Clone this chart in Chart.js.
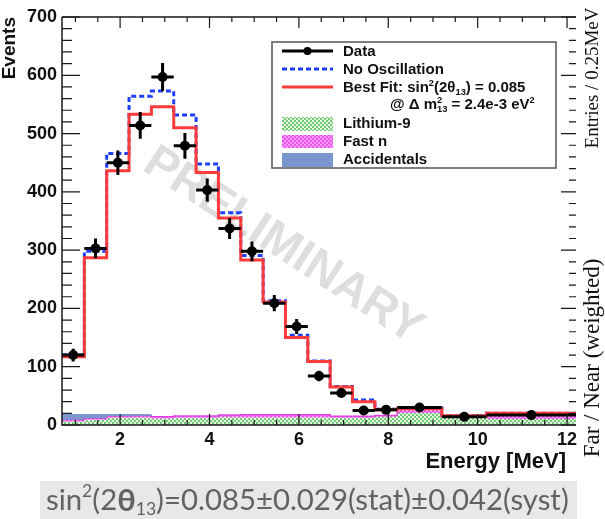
<!DOCTYPE html>
<html><head><meta charset="utf-8">
<script src="https://cdn.jsdelivr.net/npm/chart.js@4.4.1/dist/chart.umd.min.js"></script>
<style>html,body{margin:0;padding:0;background:#fff;}#wrap{position:relative;width:605px;height:519px;}</style>
</head><body><div id="wrap"><canvas id="c" width="605" height="519"></canvas></div>
<script>
// ---- data ----
const binEdges = [0.7,1.2,1.7,2.2,2.7,3.2,3.7,4.2,4.7,5.2,5.7,6.2,6.7,7.2,7.7,8.2,9.2,10.2,12.2];
const dataCenters = [0.95,1.45,1.95,2.45,2.95,3.45,3.95,4.45,4.95,5.45,5.95,6.45,6.95,7.45,7.95,8.7,9.7,11.2];
const dataValues = [120,303,450,514,597,479,403,337,298,209,169,84,55,25,26,30,14,17];
const dataErrors = [11,17,21,23,24,22,20,18,17,14,13,9,7,5,5,5.5,4,4];
const noOscillation = [120,298,466,564,573,532,448,364,291,213,154,110,66,43,27,29,16,20];
const bestFit = [117,287,436,533,546,510,433,355,283,211,150,109,65,40,26,28,16,20];
const lithium9 = [6,9,13,13,11,12.5,12.5,13.5,13,13,13,13,12.5,12.5,14,20.5,15,10.5];
const fastN = [3,2.5,2.5,3,3,3,3,3.5,4.5,4.5,4.5,4.5,2.5,2.5,2.5,8,1,7];
const accidentals = [10,7.5,3.5,3,0,0,0,0,0,0,0,0,0,0,0,0,0,0];
const xTickValues = [2,4,6,8,10,12];
const yTickValues = [0,100,200,300,400,500,600,700];

const SANS = "'Liberation Sans', Arial, Helvetica, sans-serif";
const SERIF = "'Liberation Serif', 'Times New Roman', serif";

function stepPoints(vals){
  const pts = vals.map((v,i)=>({x:binEdges[i], y:v}));
  pts.push({x:binEdges[binEdges.length-1], y:vals[vals.length-1]});
  return pts;
}
const cumLi = lithium9.slice();
const cumFn = lithium9.map((v,i)=>v+fastN[i]);
const cumAcc = cumFn.map((v,i)=>v+accidentals[i]);

function makePattern(base, dot){
  const p = document.createElement('canvas'); p.width = 4; p.height = 4;
  const g = p.getContext('2d');
  g.fillStyle = base; g.fillRect(0,0,4,4);
  g.fillStyle = dot; g.fillRect(0,0,2,2); g.fillRect(2,2,2,2);
  return g.createPattern(p,'repeat');
}
const greenPat = makePattern('#6fcb6f','#e9f8e9');
const magentaPat = makePattern('#ee55ee','#f79af7');

// ---- plugins ----
const watermark = {
  id:'watermark',
  beforeDatasetsDraw(chart){
    const ctx = chart.ctx; ctx.save();
    ctx.translate(283,246); ctx.rotate(33*Math.PI/180);
    ctx.font = "bold 47px " + SANS; ctx.fillStyle = '#dedede';
    ctx.textAlign='center'; ctx.textBaseline='middle';
    ctx.fillText('PRELIMINARY',0,0);
    ctx.restore();
  }
};

const errorBars = {
  id:'errorBars',
  afterDatasetsDraw(chart){
    const {ctx, scales:{x,y}} = chart;
    ctx.save(); ctx.strokeStyle='#000'; ctx.lineWidth=3;
    dataValues.forEach((v,i)=>{
      const xl=x.getPixelForValue(binEdges[i]), xr=x.getPixelForValue(binEdges[i+1]);
      const xc=x.getPixelForValue(dataCenters[i]);
      const yc=y.getPixelForValue(v), yt=y.getPixelForValue(v+dataErrors[i]), yb=y.getPixelForValue(v-dataErrors[i]);
      ctx.beginPath(); ctx.moveTo(xl,yc); ctx.lineTo(xr,yc); ctx.moveTo(xc,yt); ctx.lineTo(xc,yb); ctx.stroke();
      ctx.beginPath(); ctx.arc(xc,yc,5,0,Math.PI*2); ctx.fillStyle='#000'; ctx.fill();
    });
    ctx.restore();
  }
};

const frame = {
  id:'frame',
  afterDatasetsDraw(chart){
    const {ctx, chartArea:a, scales:{x,y}} = chart;
    ctx.save(); ctx.strokeStyle='#1a1a1a'; ctx.lineWidth=1.5;
    ctx.beginPath();
    ctx.moveTo(a.left,a.top); ctx.lineTo(a.left,a.bottom); ctx.lineTo(a.right,a.bottom);
    ctx.moveTo(a.left,a.top); ctx.lineTo(a.right,a.top);
    ctx.stroke();
    ctx.lineWidth=1.2; ctx.beginPath();
    for(let v=0; v<=700; v+=20){
      const py=y.getPixelForValue(v); const major = v%100===0;
      ctx.moveTo(a.left,py); ctx.lineTo(a.left+(major?18:10),py);
      ctx.moveTo(a.right,py); ctx.lineTo(a.right-(major?15:7),py);
    }
    for(let v=1.0; v<=12.01; v+=0.5){
      const px=x.getPixelForValue(v); const major = Math.abs(v/2-Math.round(v/2))<1e-6;
      ctx.moveTo(px,a.bottom); ctx.lineTo(px,a.bottom-(major?11:5));
      ctx.moveTo(px,a.top); ctx.lineTo(px,a.top+(major?11:5));
    }
    ctx.stroke();
    ctx.restore();
  }
};

function drawParts(ctx, parts, x, y, baseFont, size){
  let cx = x;
  parts.forEach(p=>{
    const s = size*(p.s||1);
    ctx.font = (p.w||baseFont.w)+' '+s+'px '+(p.f||baseFont.f);
    ctx.fillText(p.t, cx, y+(p.dy||0)*size);
    if(!p.noadv) cx += ctx.measureText(p.t).width;
  });
  return cx-x;
}
function measureParts(ctx, parts, baseFont, size){
  let w=0;
  parts.forEach(p=>{ const s=size*(p.s||1); ctx.font=(p.w||baseFont.w)+' '+s+'px '+(p.f||baseFont.f); if(!p.noadv) w+=ctx.measureText(p.t).width; });
  return w;
}

const texts = {
  id:'texts',
  afterDraw(chart){
    const ctx = chart.ctx; ctx.save();
    ctx.fillStyle='#111';
    // y title
    ctx.save(); ctx.translate(10,17); ctx.rotate(-Math.PI/2);
    ctx.font='bold 19px '+SANS; ctx.textAlign='right'; ctx.textBaseline='middle';
    ctx.fillText('Events',0,0); ctx.restore();
    // x title
    ctx.font='bold 22px '+SANS; ctx.textAlign='right'; ctx.textBaseline='middle';
    ctx.fillText('Energy [MeV]',566,462);
    // right side serif labels
    ctx.save(); ctx.translate(593,78); ctx.rotate(-Math.PI/2);
    ctx.font='19px '+SERIF; ctx.textAlign='center'; ctx.textBaseline='middle';
    ctx.fillText('Entries / 0.25MeV',0,0); ctx.restore();
    ctx.save(); ctx.translate(593,358); ctx.rotate(-Math.PI/2);
    ctx.font='23px '+SERIF; ctx.textAlign='center'; ctx.textBaseline='middle';
    ctx.fillText('Far / Near (weighted)',0,0); ctx.restore();

    // legend
    const L={l:272,t:42,r:556,b:168};
    ctx.fillStyle='#fff'; ctx.fillRect(L.l,L.t,L.r-L.l,L.b-L.t);
    ctx.strokeStyle='#555'; ctx.lineWidth=1.5; ctx.strokeRect(L.l,L.t,L.r-L.l,L.b-L.t);
    const sx0=282, sx1=333, tx=343;
    ctx.lineWidth=3;
    ctx.strokeStyle='#000'; ctx.beginPath(); ctx.moveTo(sx0,51); ctx.lineTo(sx1,51); ctx.stroke();
    ctx.fillStyle='#000'; ctx.beginPath(); ctx.arc((sx0+sx1)/2,51,4,0,Math.PI*2); ctx.fill();
    ctx.strokeStyle='#1f3fff'; ctx.setLineDash([5,3]); ctx.beginPath(); ctx.moveTo(sx0,69); ctx.lineTo(sx1,69); ctx.stroke();
    ctx.setLineDash([]);
    ctx.strokeStyle='#ff3b3b'; ctx.beginPath(); ctx.moveTo(sx0,87); ctx.lineTo(sx1,87); ctx.stroke();
    ctx.fillStyle=greenPat; ctx.fillRect(sx0,117,sx1-sx0,14);
    ctx.fillStyle=magentaPat; ctx.fillRect(sx0,135,sx1-sx0,13);
    ctx.fillStyle='#7b96cf'; ctx.fillRect(sx0,153,sx1-sx0,14);
    ctx.fillStyle='#111'; ctx.textAlign='left'; ctx.textBaseline='middle';
    const bf={w:'bold',f:SANS};
    ctx.font='bold 15px '+SANS;
    ctx.fillText('Data',tx,52);
    ctx.fillText('No Oscillation',tx,70);
    drawParts(ctx,[{t:'Best Fit: sin'},{t:'2',s:0.62,dy:-0.3},{t:'(2\u03B8'},{t:'13',s:0.62,dy:0.3},{t:') = 0.085'}],tx,88,bf,15);
    drawParts(ctx,[{t:'@ \u0394 m'},{t:'2',s:0.62,dy:-0.3,noadv:true},{t:'13',s:0.62,dy:0.32},{t:' = 2.4e-3 eV'},{t:'2',s:0.62,dy:-0.3}],390,105,bf,15);
    ctx.font='bold 15px '+SANS;
    ctx.fillText('Lithium-9',tx,124);
    ctx.fillText('Fast n',tx,142);
    ctx.fillText('Accidentals',tx,160);

    // caption box
    ctx.fillStyle='#e8e8e8'; ctx.fillRect(40,481,537,38);
    const cf={w:'normal',f:"Lato, 'Open Sans', sans-serif"};
    const cparts=[{t:'sin'},{t:'2',s:0.6,dy:-0.32},{t:'(2'},{t:'\u03B8',w:'bold',s:1.05},{t:'13',s:0.6,dy:0.28},{t:')=0.085\u00B10.029(stat)\u00B10.042(syst)'}];
    const w0=measureParts(ctx,cparts,cf,28);
    const size=28*523/w0;
    ctx.fillStyle='#626262'; ctx.textBaseline='middle'; ctx.textAlign='left';
    drawParts(ctx,cparts,46,501,cf,size);
    ctx.restore();
  }
};

// ---- chart ----
const ctx = document.getElementById('c').getContext('2d');
new Chart(ctx,{
  type:'line',
  data:{datasets:[
    {label:'Lithium-9', data:stepPoints(cumLi), stepped:'before', borderWidth:0, borderColor:'rgba(0,0,0,0)', backgroundColor:greenPat, fill:'origin', pointRadius:0, order:10},
    {label:'Fast n', data:stepPoints(cumFn), stepped:'before', borderWidth:1.5, borderColor:'#e040e0', backgroundColor:magentaPat, fill:'-1', pointRadius:0, order:9},
    {label:'Accidentals', data:stepPoints(cumAcc), stepped:'before', borderWidth:0, borderColor:'rgba(0,0,0,0)', backgroundColor:'#7b96cf', fill:'-1', pointRadius:0, order:8},
    {label:'No Oscillation', data:stepPoints(noOscillation), stepped:'before', borderWidth:3, borderColor:'#1f3fff', borderDash:[5,3], fill:false, pointRadius:0, order:3},
    {label:'Best Fit', data:stepPoints(bestFit), stepped:'before', borderWidth:3, borderColor:'#ff3b3b', fill:false, pointRadius:0, order:2},
    {label:'Data', data:dataCenters.map((c,i)=>({x:c,y:dataValues[i]})), showLine:false, pointRadius:0, order:1}
  ]},
  options:{
    responsive:false, animation:false, devicePixelRatio:1,
    layout:{padding:{top:17,right:29,left:0,bottom:0}},
    plugins:{legend:{display:false}, tooltip:{enabled:false}},
    scales:{
      x:{type:'linear', min:0.7, max:12.2,
        grid:{display:false, drawTicks:false}, border:{display:false},
        ticks:{font:{family:SANS, size:18, weight:'bold'}, color:'#111', padding:4, maxRotation:0, autoSkip:false},
        afterBuildTicks:(s)=>{s.ticks=xTickValues.map(v=>({value:v}));},
        afterFit:(s)=>{s.height=94;}},
      y:{type:'linear', min:0, max:700,
        grid:{display:false, drawTicks:false}, border:{display:false},
        ticks:{font:{family:SANS, size:18, weight:'bold'}, color:'#111', padding:5, autoSkip:false},
        afterBuildTicks:(s)=>{s.ticks=yTickValues.map(v=>({value:v}));},
        afterFit:(s)=>{s.width=62;}}
    }
  },
  plugins:[watermark, errorBars, frame, texts]
});
</script></body></html>
